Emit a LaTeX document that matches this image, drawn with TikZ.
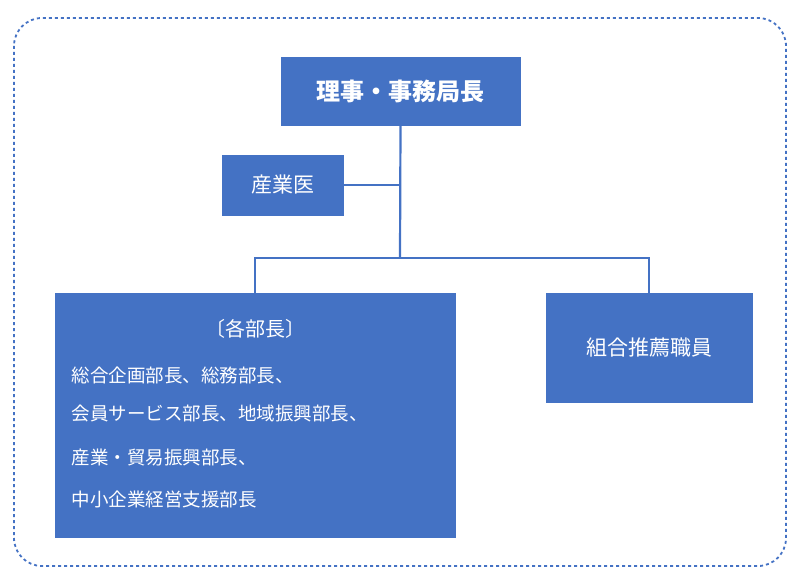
\documentclass[tikz,border=0pt]{standalone}
\usepackage{fontspec}
\newfontfamily\cjk{Noto Sans CJK JP}
\definecolor{blu}{HTML}{4472C4}
\begin{document}
\begin{tikzpicture}[x=1pt,y=-1pt,
 box/.style={fill=blu,draw=blu,text=white,font=\cjk,inner sep=0pt},
 conn/.style={draw=blu,line width=2.2pt}]
\useasboundingbox (0,0) rectangle (800,585);
\draw[blu,dashed,line width=1.8pt,rounded corners=28pt] (14,18) rectangle (786,566);
\node[box,minimum width=239pt,minimum height=68pt,font=\cjk\bfseries\fontsize{24}{28}\selectfont] (top) at (400.5,91) {理事・事務局長};
\node[box,minimum width=121pt,minimum height=60pt,font=\cjk\fontsize{21}{25}\selectfont] (doc) at (282.5,185) {産業医};
\node[box,minimum width=400pt,minimum height=244pt] (left) at (255,415) {};
\node[box,minimum width=206pt,minimum height=109pt,font=\cjk\fontsize{21}{25}\selectfont] (right) at (649,347.5) {組合推薦職員};
\node[text=white,font=\cjk\fontsize{20}{24}\selectfont] (lt) at (255,329) {〔各部長〕};
\node[text=white,font=\cjk\fontsize{18.5}{22}\selectfont,anchor=west] (l1) at (68,375) {総合企画部長、総務部長、};
\node[text=white,font=\cjk\fontsize{18.5}{22}\selectfont,anchor=west] (l2) at (68,413) {会員サービス部長、地域振興部長、};
\node[text=white,font=\cjk\fontsize{18.5}{22}\selectfont,anchor=west] (l3) at (68,458) {産業・貿易振興部長、};
\node[text=white,font=\cjk\fontsize{18.5}{22}\selectfont,anchor=west] (l4) at (68,499) {中小企業経営支援部長};
\coordinate (j) at (400,258);
\draw[conn] (top.south) -- (j);
\draw[conn] (doc.east) -- (doc.east -| top.south);
\draw[conn] (left.north) |- (j) -| (right.north);
\end{tikzpicture}
\end{document}
